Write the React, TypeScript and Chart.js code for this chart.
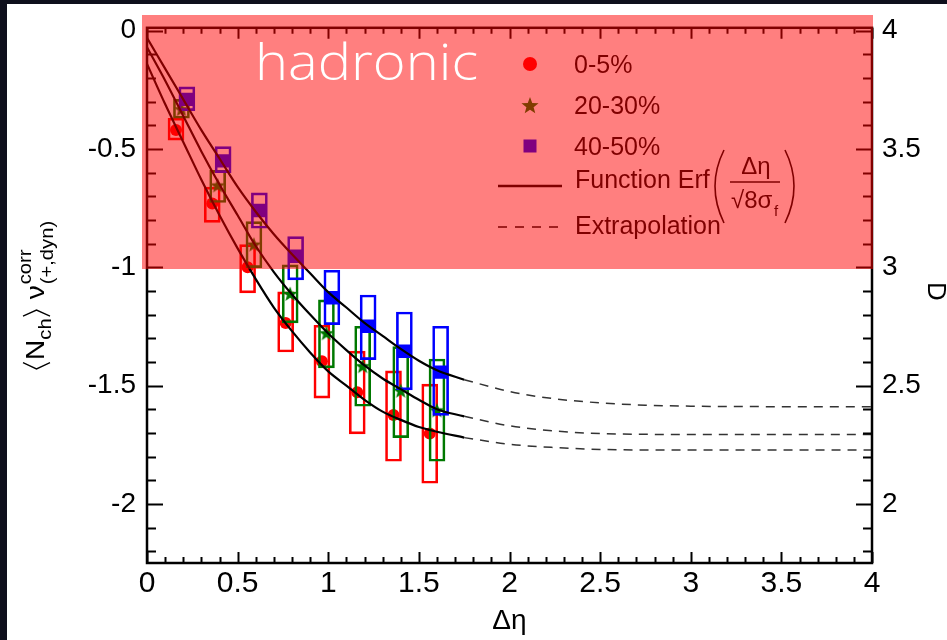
import React, { useEffect, useRef } from 'react';
import { Chart, registerables } from 'chart.js';

Chart.register(...registerables);

// ---------- data ----------
const xTicks = [0, 0.5, 1, 1.5, 2, 2.5, 3, 3.5, 4];
const yTicks = [0, -0.5, -1, -1.5, -2];
const y2Ticks = [2, 2.5, 3, 3.5, 4];

const legendLabels = ['0-5%', '20-30%', '40-50%', 'Function Erf', 'Extrapolation'];

// 0-5% (red circles)
const etaRed = [0.16, 0.36, 0.555, 0.765, 0.965, 1.16, 1.36, 1.56];
const valRed = [-0.42, -0.73, -1.0, -1.235, -1.397, -1.528, -1.624, -1.703];
const sysRedHi = [-0.37, -0.661, -0.904, -1.104, -1.245, -1.354, -1.438, -1.494];
const sysRedLo = [-0.4625, -0.81, -1.108, -1.358, -1.553, -1.704, -1.82, -1.913];

// 20-30% (green stars)
const etaGreen = [0.19, 0.39, 0.59, 0.79, 0.99, 1.19, 1.4, 1.6];
const valGreen = [-0.332, -0.654, -0.904, -1.1125, -1.279, -1.418, -1.522, -1.605];
const sysGreenHi = [-0.29, -0.59, -0.807, -0.99, -1.1375, -1.249, -1.335, -1.3875];
const sysGreenLo = [-0.37, -0.726, -1.001, -1.235, -1.425, -1.5875, -1.72, -1.82];

// 40-50% (blue squares)
const etaBlue = [0.22, 0.42, 0.62, 0.82, 1.02, 1.22, 1.42, 1.62];
const valBlue = [-0.29, -0.55, -0.76, -0.953, -1.129, -1.249, -1.355, -1.443];
const sysBlueHi = [-0.2375, -0.49, -0.685, -0.87, -1.0125, -1.117, -1.189, -1.249];
const sysBlueLo = [-0.3375, -0.6, -0.835, -1.053, -1.242, -1.39, -1.518, -1.626];

// fitted curves (solid) and extrapolations (dashed)
const fitX = [0, 0.1, 0.2, 0.3, 0.4, 0.5, 0.6, 0.7, 0.8, 0.9, 1.0, 1.1, 1.2, 1.3, 1.4, 1.5, 1.6, 1.75];
const fitRed = [-0.14, -0.31, -0.47, -0.63, -0.78, -0.92, -1.05, -1.17, -1.27, -1.36, -1.44, -1.5, -1.56, -1.61, -1.645, -1.675, -1.695, -1.72];
const fitGreen = [-0.07, -0.21, -0.36, -0.51, -0.65, -0.78, -0.91, -1.02, -1.115, -1.2, -1.28, -1.35, -1.415, -1.47, -1.515, -1.56, -1.6, -1.63];
const fitBlue = [-0.03, -0.16, -0.29, -0.42, -0.54, -0.66, -0.765, -0.86, -0.945, -1.025, -1.105, -1.17, -1.235, -1.29, -1.345, -1.395, -1.435, -1.475];

const extX = [1.75, 2.0, 2.25, 2.5, 2.75, 3.0, 3.5, 4.0];
const extRed = [-1.72, -1.748, -1.762, -1.77, -1.772, -1.772, -1.772, -1.772];
const extGreen = [-1.63, -1.67, -1.692, -1.703, -1.706, -1.707, -1.707, -1.707];
const extBlue = [-1.475, -1.525, -1.556, -1.573, -1.583, -1.587, -1.589, -1.589];

// ---------- styles ----------
const RED = '#ff0000';
const GREEN = '#007800';
const BLUE = '#0000ff';
const SANS = '"Liberation Sans", Arial, sans-serif';

function drawStar(ctx: CanvasRenderingContext2D, cx: number, cy: number, R: number, color: string) {
  const r = R * 0.42;
  ctx.beginPath();
  for (let i = 0; i < 10; i++) {
    const a = -Math.PI / 2 + (i * Math.PI) / 5;
    const rr = i % 2 === 0 ? R : r;
    ctx.lineTo(cx + rr * Math.cos(a), cy + rr * Math.sin(a));
  }
  ctx.closePath();
  ctx.fillStyle = color;
  ctx.fill();
}

function makeStar(color: string, R: number) {
  const c = document.createElement('canvas');
  const s = Math.ceil(R * 2 + 2);
  c.width = s;
  c.height = s;
  const ctx = c.getContext('2d')!;
  drawStar(ctx, s / 2, s / 2 + 0.5, R, color);
  return c;
}

const pts = (xs: number[], ys: number[]) => xs.map((x, i) => ({ x, y: ys[i] }));

const decorPlugin = {
  id: 'decor',
  beforeDraw(chart: any) {
    const { ctx, width, height } = chart;
    ctx.save();
    ctx.fillStyle = '#0e0f1c';
    ctx.fillRect(0, 0, width, height);
    ctx.fillStyle = '#ffffff';
    ctx.fillRect(7, 4, width - 7, height - 4);
    ctx.restore();
  },
  afterDraw(chart: any) {
    const { ctx, chartArea: a } = chart;
    const xs = chart.scales.x;
    const ys = chart.scales.y;
    const ys2 = chart.scales.y2;
    ctx.save();
    // ticks
    ctx.strokeStyle = '#000';
    ctx.lineWidth = 2;
    ctx.beginPath();
    for (let i = 0; i <= 40; i++) {
      const px = Math.round(xs.getPixelForValue(i / 10)) + 0.5;
      const len = i % 5 === 0 ? 11 : 6;
      ctx.moveTo(px, a.bottom);
      ctx.lineTo(px, a.bottom - len);
      ctx.moveTo(px, a.top);
      ctx.lineTo(px, a.top + len);
    }
    for (let i = -22; i <= 0; i++) {
      const py = Math.round(ys.getPixelForValue(i / 10)) + 0.5;
      const len = i % 5 === 0 ? 16 : 9;
      ctx.moveTo(a.left, py);
      ctx.lineTo(a.left + len, py);
    }
    for (let i = 18; i <= 40; i++) {
      const py = Math.round(ys2.getPixelForValue(i / 10)) + 0.5;
      const len = i % 5 === 0 ? 16 : 9;
      ctx.moveTo(a.right, py);
      ctx.lineTo(a.right - len, py);
    }
    ctx.stroke();
    // frame
    ctx.lineWidth = 2.5;
    ctx.strokeRect(a.left, a.top, a.right - a.left, a.bottom - a.top);

    // legend
    const mx = 530;
    const rows = [64, 105, 146, 179, 225];
    ctx.fillStyle = RED;
    ctx.beginPath();
    ctx.arc(mx, rows[0], 7, 0, Math.PI * 2);
    ctx.fill();
    drawStar(ctx, mx, rows[1] + 1, 9, GREEN);
    ctx.fillStyle = BLUE;
    ctx.fillRect(mx - 6.5, rows[2] - 6.5, 13, 13);
    ctx.strokeStyle = '#000';
    ctx.lineWidth = 2.5;
    ctx.beginPath();
    ctx.moveTo(498, 186);
    ctx.lineTo(562, 186);
    ctx.stroke();
    ctx.lineWidth = 1.5;
    ctx.setLineDash([9, 8]);
    ctx.beginPath();
    ctx.moveTo(498, 227);
    ctx.lineTo(562, 227);
    ctx.stroke();
    ctx.setLineDash([]);
    ctx.fillStyle = '#000';
    ctx.font = `25px ${SANS}`;
    ctx.textBaseline = 'alphabetic';
    ctx.textAlign = 'left';
    ctx.fillText(legendLabels[0], 574, rows[0] + 9);
    ctx.fillText(legendLabels[1], 574, rows[1] + 9);
    ctx.fillText(legendLabels[2], 574, rows[2] + 9);
    ctx.fillText(legendLabels[3], 575, rows[3] + 9);
    ctx.fillText(legendLabels[4], 575, rows[4] + 9);
    // Erf argument: ( Δη / √8σ_f )
    ctx.lineWidth = 1.6;
    ctx.beginPath();
    ctx.moveTo(724, 150);
    ctx.quadraticCurveTo(706, 186, 724, 223);
    ctx.moveTo(785, 150);
    ctx.quadraticCurveTo(803, 186, 785, 223);
    ctx.stroke();
    ctx.font = `24px ${SANS}`;
    ctx.textAlign = 'center';
    ctx.fillText('Δη', 756, 174);
    ctx.beginPath();
    ctx.moveTo(730, 182);
    ctx.lineTo(780, 182);
    ctx.stroke();
    ctx.textAlign = 'left';
    ctx.fillText('√8σ', 731, 208);
    ctx.font = `15px ${SANS}`;
    ctx.fillText('f', 774, 216);

    // y-axis title (rotated)
    ctx.save();
    ctx.translate(44, 296);
    ctx.rotate(-Math.PI / 2);
    const big = `25px ${SANS}`;
    const small = `18px ${SANS}`;
    ctx.font = big;
    const wN = ctx.measureText('N').width;
    const wNu = ctx.measureText('ν').width;
    ctx.font = small;
    const wCh = ctx.measureText('ch').width;
    const wCorr = ctx.measureText('corr').width;
    const wDyn = ctx.measureText('(+,dyn)').width;
    const br = 9;
    const total = br + wN + wCh + br + 7 + wNu + 1 + Math.max(wCorr, wDyn);
    const sx = 1.12;
    ctx.scale(sx, 1);
    let x = -total / 2;
    ctx.lineWidth = 1.3;
    ctx.beginPath();
    ctx.moveTo(x + 6.5, -21);
    ctx.lineTo(x + 1, -7.5);
    ctx.lineTo(x + 6.5, 6);
    ctx.stroke();
    x += br;
    ctx.font = big;
    ctx.fillText('N', x, 0);
    x += wN;
    ctx.font = small;
    ctx.fillText('ch', x, 7);
    x += wCh + 1;
    ctx.beginPath();
    ctx.moveTo(x + 1, -21);
    ctx.lineTo(x + 6.5, -7.5);
    ctx.lineTo(x + 1, 6);
    ctx.stroke();
    x += br + 7;
    ctx.font = big;
    ctx.fillText('ν', x, 0);
    x += wNu + 1;
    ctx.font = small;
    ctx.fillText('corr', x, -13);
    ctx.fillText('(+,dyn)', x, 9);
    ctx.restore();

    // cut-off right axis title
    ctx.save();
    ctx.translate(928, 282);
    ctx.rotate(Math.PI / 2);
    ctx.font = `26px ${SANS}`;
    ctx.fillStyle = '#000';
    ctx.fillText('D', 0, 0);
    ctx.restore();

    // hadronic overlay
    ctx.fillStyle = 'rgba(255,0,0,0.5)';
    ctx.fillRect(142, 15, 731, 254);
    ctx.fillStyle = '#ffffff';
    ctx.font = `300 50px "Open Sans", Lato, sans-serif`;
    const tw = ctx.measureText('hadronic').width;
    ctx.save();
    ctx.translate(255, 80);
    ctx.scale(223 / tw, 1);
    ctx.fillText('hadronic', 0, 0);
    ctx.restore();

    ctx.restore();
  },
};

export default function App() {
  const ref = useRef<HTMLCanvasElement>(null);
  useEffect(() => {
    const canvas = ref.current!;
    const star = makeStar(GREEN, 8);
    const box = (xs: number[], hi: number[], lo: number[], color: string, order: number) => ({
      type: 'bar',
      data: xs.map((x, i) => ({ x, y: [lo[i], hi[i]] })),
      borderColor: color,
      backgroundColor: 'rgba(0,0,0,0)',
      borderWidth: 2,
      borderSkipped: false,
      barThickness: 16,
      grouped: false,
      order,
      yAxisID: 'y',
    });
    const marker = (xs: number[], ys: number[], color: string, style: any, r: number, order: number) => ({
      type: 'scatter',
      data: pts(xs, ys),
      pointStyle: style,
      pointRadius: r,
      backgroundColor: color,
      borderColor: color,
      borderWidth: 0,
      showLine: false,
      order,
      yAxisID: 'y',
    });
    const curve = (xs: number[], ys: number[], dashed: boolean) => ({
      type: 'scatter',
      data: pts(xs, ys),
      showLine: true,
      pointRadius: 0,
      borderColor: dashed ? '#333' : '#000',
      borderWidth: dashed ? 1.5 : 2.2,
      borderDash: dashed ? [9, 7] : [],
      cubicInterpolationMode: 'monotone',
      fill: false,
      order: 0,
      yAxisID: 'y',
    });
    const tickFont = { family: SANS, size: 28 };
    const chart = new Chart(canvas, {
      type: 'scatter',
      data: {
        datasets: [
          curve(fitRed.length ? fitX : [], fitRed, false),
          curve(fitX, fitGreen, false),
          curve(fitX, fitBlue, false),
          curve(extX, extRed, true),
          curve(extX, extGreen, true),
          curve(extX, extBlue, true),
          marker(etaBlue, valBlue, BLUE, 'rect', 9.5, 1),
          box(etaBlue, sysBlueHi, sysBlueLo, BLUE, 2),
          marker(etaGreen, valGreen, GREEN, star, 8, 3),
          box(etaGreen, sysGreenHi, sysGreenLo, GREEN, 4),
          marker(etaRed, valRed, RED, 'circle', 6, 5),
          box(etaRed, sysRedHi, sysRedLo, RED, 6),
        ] as any,
      },
      options: {
        animation: false,
        responsive: false,
        devicePixelRatio: 1,
        events: [],
        layout: { padding: { top: 20, left: 0, right: 0, bottom: 0 } },
        plugins: { legend: { display: false }, tooltip: { enabled: false } },
        scales: {
          x: {
            type: 'linear',
            min: 0,
            max: 4,
            offset: false,
            position: 'bottom',
            grid: { display: false, drawTicks: false },
            border: { display: false },
            afterBuildTicks: (s: any) => {
              s.ticks = xTicks.map((v) => ({ value: v }));
            },
            afterFit: (s: any) => {
              s.height = 77;
            },
            ticks: {
              font: { family: '"Liberation Sans Narrow", "Liberation Sans", Arial', size: 30 },
              color: '#000',
              padding: 3,
              maxRotation: 0,
              autoSkip: false,
              callback: (v: any) => String(v),
            },
            title: {
              display: true,
              text: 'Δη',
              color: '#000',
              font: { family: '"Liberation Sans Narrow", "Liberation Sans", Arial', size: 28 },
              padding: { top: 0, bottom: 2 },
            },
          },
          y: {
            type: 'linear',
            min: -2.25,
            max: 0.0125,
            position: 'left',
            grid: { display: false, drawTicks: false },
            border: { display: false },
            afterBuildTicks: (s: any) => {
              s.ticks = yTicks.map((v) => ({ value: v }));
            },
            afterFit: (s: any) => {
              s.width = 147;
            },
            ticks: { font: tickFont, color: '#000', padding: 11, callback: (v: any) => String(v) },
          },
          y2: {
            type: 'linear',
            min: 1.75,
            max: 4.0125,
            position: 'right',
            grid: { display: false, drawTicks: false },
            border: { display: false },
            afterBuildTicks: (s: any) => {
              s.ticks = y2Ticks.map((v) => ({ value: v }));
            },
            afterFit: (s: any) => {
              s.width = 75;
            },
            ticks: { font: tickFont, color: '#000', padding: 10, callback: (v: any) => String(v) },
          },
        },
      } as any,
      plugins: [decorPlugin],
    });
    return () => chart.destroy();
  }, []);
  return (
    <div style={{ position: 'fixed', left: 0, top: 0, width: 947, height: 640 }}>
      <canvas ref={ref} width={947} height={640} style={{ display: 'block' }} />
    </div>
  );
}
